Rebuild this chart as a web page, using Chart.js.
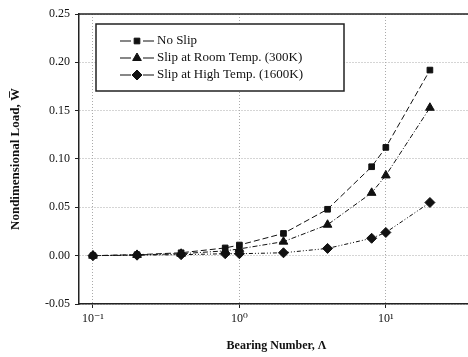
<!DOCTYPE html>
<html><head><meta charset="utf-8">
<script src="https://cdn.jsdelivr.net/npm/chart.js@4/dist/chart.umd.min.js"></script>
<style>html,body{margin:0;padding:0;background:#fff;overflow:hidden;}#wrap{width:468px;height:357px;overflow:hidden;}</style>
</head><body><div id="wrap"><canvas id="c" width="480" height="357"></canvas></div>
<script>
const bearingNumbers = [0.1, 0.2, 0.4, 0.8, 1, 2, 4, 8, 10, 20];
const noSlip   = [0.000, 0.001, 0.003, 0.008, 0.011, 0.023, 0.048, 0.092, 0.112, 0.192];
const slipRoom = [0.000, 0.0008, 0.002, 0.005, 0.007, 0.0145, 0.032, 0.065, 0.083, 0.153];
const slipHigh = [0.000, 0.0005, 0.001, 0.002, 0.002, 0.003, 0.0075, 0.018, 0.024, 0.055];
const seriesLabels = ['No Slip', 'Slip at Room Temp. (300K)', 'Slip at High Temp. (1600K)'];
const xTickValues = [0.1, 1, 10];
const xTickLabels = ['10\u207B\u00B9', '10\u2070', '10\u00B9'];
const yTickLabels = ['-0.05', '0.00', '0.05', '0.10', '0.15', '0.20', '0.25'];

const pts = arr => bearingNumbers.map((x, i) => ({x: x, y: arr[i]}));
const FONT = '"Liberation Serif", "DejaVu Serif", serif';

const mk = (label, data, style, dash, r) => ({
  label, data: pts(data), borderColor: '#111', backgroundColor: '#111',
  borderWidth: 1, borderDash: dash, pointStyle: style, pointRadius: r,
  pointHoverRadius: r, tension: 0, fill: false
});

const legendBox = {
  id: 'legendBox',
  afterDatasetsDraw(chart) {
    const ctx = chart.ctx;
    const x0 = 96, y0 = 24, w = 248, h = 67;
    ctx.save();
    ctx.fillStyle = '#fff';
    ctx.fillRect(x0, y0, w, h);
    ctx.strokeStyle = '#222'; ctx.lineWidth = 1.5; ctx.setLineDash([]);
    ctx.strokeRect(x0, y0, w, h);
    const rows = [41, 58, 75];
    chart.data.datasets.forEach((ds, i) => {
      const y = rows[i];
      ctx.strokeStyle = '#111'; ctx.lineWidth = 1.2; ctx.setLineDash([]);
      ctx.beginPath(); ctx.moveTo(120, y); ctx.lineTo(131, y); ctx.moveTo(143, y); ctx.lineTo(154, y); ctx.stroke();
      ctx.fillStyle = '#111'; ctx.strokeStyle = '#111'; ctx.lineWidth = 1;
      Chart.helpers.drawPoint(ctx, {pointStyle: ds.pointStyle, radius: ds.pointRadius, borderWidth: 1}, 137, y);
      ctx.fillStyle = '#111';
      ctx.font = '13px ' + FONT;
      ctx.textBaseline = 'middle'; ctx.textAlign = 'left';
      ctx.fillText(ds.label, 157, y);
    });
    ctx.restore();
  },
  afterDraw(chart) {
    const a = chart.chartArea, ctx = chart.ctx;
    ctx.save(); ctx.strokeStyle = '#222'; ctx.lineWidth = 1.5; ctx.setLineDash([]);
    ctx.beginPath(); ctx.moveTo(a.left, a.top); ctx.lineTo(a.right, a.top); ctx.stroke();
    ctx.restore();
  }
};

new Chart(document.getElementById('c'), {
  type: 'line',
  data: { datasets: [
    mk(seriesLabels[0], noSlip, 'rect', [6, 3], 4),
    mk(seriesLabels[1], slipRoom, 'triangle', [5, 2, 1, 2], 5),
    mk(seriesLabels[2], slipHigh, 'rectRot', [4, 2, 1, 2, 1, 2], 5)
  ]},
  options: {
    responsive: false, animation: false,
    layout: { padding: { top: 14, right: 0, left: 4, bottom: 0 } },
    plugins: { legend: { display: false }, tooltip: { enabled: false } },
    scales: {
      x: {
        type: 'logarithmic', min: 0.0803, max: 40,
        afterBuildTicks: s => { s.ticks = xTickValues.map(v => ({value: v})); },
        afterFit: s => { s.height = 53; },
        ticks: { color: '#111', font: { family: FONT, size: 12 }, padding: 4, maxRotation: 0,
          callback: (v) => xTickLabels[xTickValues.indexOf(v)] },
        grid: { color: '#aaa', lineWidth: 1, drawTicks: true, tickLength: 4, tickColor: '#222' },
        border: { display: true, color: '#222', width: 1.5, dash: [1, 2] },
        title: { display: true, text: 'Bearing Number, \u039B', color: '#111',
          font: { family: FONT, size: 12, weight: 'bold' }, padding: { top: 8 } }
      },
      y: {
        min: -0.05, max: 0.25,
        afterBuildTicks: s => { s.ticks = yTickLabels.map(t => ({value: parseFloat(t)})); },
        afterFit: s => { s.width = 75; },
        ticks: { color: '#111', font: { family: FONT, size: 12 }, padding: 5,
          callback: (v, i) => yTickLabels[i] },
        grid: { color: '#aaa', lineWidth: 1, tickLength: 4, tickColor: '#222' },
        border: { display: true, color: '#222', width: 1.5, dash: [1, 2] },
        title: { display: true, text: 'Nondimensional Load, W\u0305', color: '#111',
          font: { family: FONT, size: 13, weight: 'bold' }, padding: { bottom: 4 } }
      }
    }
  },
  plugins: [legendBox]
});
</script></body></html>
